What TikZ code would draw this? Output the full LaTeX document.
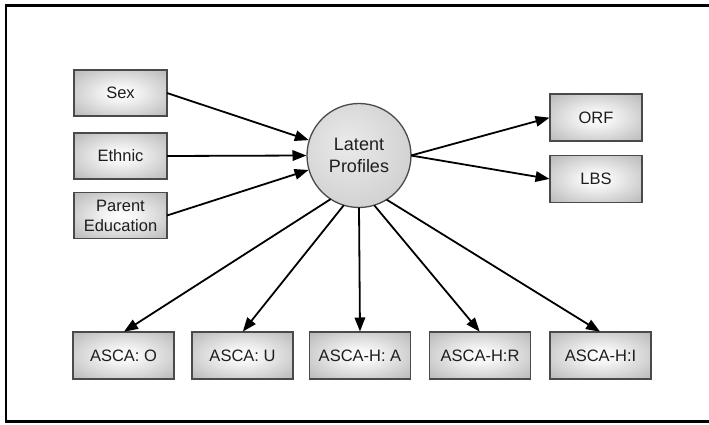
\documentclass[tikz,border=0pt]{standalone}
\usepackage{fontspec}
\setmainfont{Liberation Sans}
\usetikzlibrary{arrows.meta,shadings}
\definecolor{edgegray}{HTML}{4A4A4A}
\definecolor{txt}{HTML}{1E1E1E}
% soft centre-lit fill for the variable boxes
\pgfdeclareradialshading{boxglow}{\pgfpoint{0bp}{0bp}}{%
  color(0bp)=(white); color(8bp)=(white!96!black);
  color(45bp)=(black!36); color(71bp)=(black!50)}
\pgfdeclareradialshading{ballglow}{\pgfpoint{-6bp}{6bp}}{%
  color(0bp)=(black!8); color(30bp)=(black!18);
  color(50bp)=(black!30); color(71bp)=(black!34)}
\tikzset{
  varbox/.style={rectangle, draw=edgegray, line width=1.3pt,
    shading=boxglow,
    text=txt, align=center, inner sep=0pt, outer sep=0pt,
    font=\fontsize{16.5}{20}\selectfont},
  latentnode/.style={circle, draw=edgegray, line width=1.3pt,
    shading=ballglow,
    minimum size=104pt, inner sep=0pt, outer sep=0pt, align=center,
    text=txt, font=\fontsize{18}{22}\selectfont},
  path/.style={line width=1.8pt, draw=black,
    -{Triangle[length=14pt,width=10.5pt]}, shorten >=0.5pt}
}
\begin{document}
\begin{tikzpicture}[x=1pt,y=-1pt]
  \useasboundingbox (0,0) rectangle (709,425);
  % outer frame (right edge runs past the page)
  \draw[line width=2.6pt, black] (6,5.5) rectangle (720,421.5);

  % latent class node
  \node[latentnode] (lp) at (359,155.5) {Latent\\Profiles};

  % covariates
  \node[varbox, minimum width=93pt, minimum height=46pt] (sex) at (120.5,93) {Sex};
  \node[varbox, minimum width=93pt, minimum height=46pt] (eth) at (120.5,156) {Ethnic};
  \node[varbox, minimum width=93pt, minimum height=46pt] (par) at (120.5,215.5) {Parent\\Education};

  % distal outcomes
  \node[varbox, minimum width=92pt, minimum height=47pt] (orf) at (596,117.5) {ORF};
  \node[varbox, minimum width=92pt, minimum height=47pt] (lbs) at (596,179) {LBS};

  % indicators
  \node[varbox, minimum width=101pt, minimum height=47pt] (ao) at (123.5,355.5) {ASCA: O};
  \node[varbox, minimum width=101pt, minimum height=47pt] (au) at (242.5,355.5) {ASCA: U};
  \node[varbox, minimum width=101pt, minimum height=47pt] (ha) at (360,355.5) {ASCA-H: A};
  \node[varbox, minimum width=101pt, minimum height=47pt] (hr) at (480,355.5) {ASCA-H:R};
  \node[varbox, minimum width=101pt, minimum height=47pt] (hi) at (600.5,355.5) {ASCA-H:I};

  % covariates -> latent profiles
  \draw[path] (sex.east) -- (lp.163);
  \draw[path] (eth.east) -- (lp.west);
  \draw[path] (par.east) -- (lp.196);

  % latent profiles -> outcomes
  \draw[path] (lp.east) -- (orf.west);
  \draw[path] (lp.east) -- (lbs.west);

  % latent profiles -> indicators
  \draw[path] (lp.237) -- (ao.north);
  \draw[path] (lp.253) -- (au.north);
  \draw[path] (lp.south) -- (ha.north);
  \draw[path] (lp.287) -- (hr.north);
  \draw[path] (lp.302) -- (hi.north);
\end{tikzpicture}
\end{document}
